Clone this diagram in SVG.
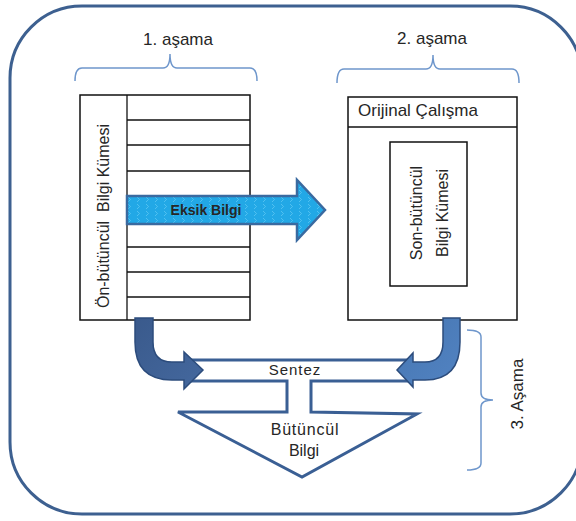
<svg xmlns="http://www.w3.org/2000/svg" width="576" height="521" viewBox="0 0 576 521">
  <style>
    .frame { fill: #ffffff; stroke: #3d6090; stroke-width: 3; }
    .box { fill: #ffffff; stroke: #111111; stroke-width: 1.5; }
    .rule { stroke: #111111; stroke-width: 1.3; }
    .brace { fill: none; stroke: #6f97cc; stroke-width: 1.5; }
    .txt { font-family: "Liberation Sans", Arial, sans-serif; fill: #262626; }
    .blk { fill: #ffffff; stroke: #3a5f94; stroke-width: 3; stroke-linejoin: miter; }
    .bend { stroke: #2c4c7c; stroke-width: 1.5; stroke-linejoin: miter; }
  </style>
  <defs>
    <pattern id="chev" width="9" height="7" patternUnits="userSpaceOnUse">
      <rect width="9" height="7" fill="#22a8e6"/>
      <polyline points="2,1 4.5,3.5 2,6" fill="none" stroke="#5cc6f2" stroke-width="0.8"/>
    </pattern>
    <linearGradient id="gLeft" x1="0" y1="0" x2="1" y2="1">
      <stop offset="0" stop-color="#3a5a8c"/>
      <stop offset="1" stop-color="#44689e"/>
    </linearGradient>
    <linearGradient id="gRight" x1="0" y1="0" x2="1" y2="1">
      <stop offset="0" stop-color="#4676b2"/>
      <stop offset="1" stop-color="#5283c2"/>
    </linearGradient>
  </defs>

  <!-- outer rounded frame -->
  <rect class="frame" x="10" y="6" width="572" height="508" rx="72" ry="72"/>

  <!-- stage braces and labels -->
  <g id="stage1">
    <path class="brace" d="M75,81 Q75,68 82,68 L163,68 Q170,68 170,54 Q170,68 177,68 L250,68 Q257,68 257,81"/>
    <text class="txt" x="178" y="45" font-size="17" text-anchor="middle">1. aşama</text>
  </g>
  <g id="stage2">
    <path class="brace" d="M337,83 Q337,69 344,69 L426,69 Q433,69 433,55 Q433,69 440,69 L512,69 Q519,69 519,83"/>
    <text class="txt" x="432" y="44" font-size="17" text-anchor="middle">2. aşama</text>
  </g>
  <g id="stage3">
    <path class="brace" d="M467,330 Q481,330 481,337 L481,393 Q481,400 493,400 Q481,400 481,407 L481,463 Q481,470 467,470"/>
    <text class="txt" x="523" y="394" font-size="17" text-anchor="middle" transform="rotate(-90 523 394)">3. Aşama</text>
  </g>

  <!-- pre-integration data set table -->
  <g id="pre-set">
    <rect class="box" x="80" y="95" width="170" height="225"/>
    <line class="rule" x1="127" y1="95" x2="127" y2="320"/>
    <line class="rule" x1="127" y1="120" x2="250" y2="120"/>
    <line class="rule" x1="127" y1="145" x2="250" y2="145"/>
    <line class="rule" x1="127" y1="171" x2="250" y2="171"/>
    <line class="rule" x1="127" y1="196" x2="250" y2="196"/>
    <line class="rule" x1="127" y1="221" x2="250" y2="221"/>
    <line class="rule" x1="127" y1="247" x2="250" y2="247"/>
    <line class="rule" x1="127" y1="272" x2="250" y2="272"/>
    <line class="rule" x1="127" y1="297" x2="250" y2="297"/>
    <text class="txt" x="109" y="216" font-size="16" text-anchor="middle" style="white-space:pre" transform="rotate(-90 109 216)">Ön-bütüncül  Bilgi Kümesi</text>
  </g>

  <!-- original study box -->
  <g id="original">
    <rect class="box" x="348" y="97" width="169" height="223"/>
    <line class="rule" x1="348" y1="127" x2="517" y2="127"/>
    <text class="txt" x="358" y="116" font-size="17">Orijinal Çalışma</text>
  </g>
  <g id="post-set">
    <rect class="box" x="390" y="142" width="77" height="144"/>
    <text class="txt" x="422" y="213" font-size="16" text-anchor="middle" transform="rotate(-90 422 213)">Son-bütüncül</text>
    <text class="txt" x="448" y="213" font-size="16" text-anchor="middle" transform="rotate(-90 448 213)">Bilgi Kümesi</text>
  </g>

  <!-- synthesis block arrow -->
  <g id="synthesis">
    <path class="blk" d="M192,360 L407,360 L407,381 L311,381 L311,412 L417,414 L302,477 L178,412 L287,412 L287,381 L192,381 Z"/>
    <text class="txt" x="295" y="375" font-size="15" text-anchor="middle" letter-spacing="1">Sentez</text>
    <text class="txt" x="305" y="435" font-size="16" text-anchor="middle" letter-spacing="0.8">Bütüncül</text>
    <text class="txt" x="304" y="456" font-size="16" text-anchor="middle">Bilgi</text>
  </g>

  <!-- connectors -->
  <g id="connectors">
    <g id="missing-info">
      <path d="M127,196 L297,196 L297,180 L325,210 L297,240 L297,224 L127,224 Z" fill="url(#chev)" stroke="#3a6aa0" stroke-width="2.5" stroke-linejoin="miter"/>
      <text class="txt" x="206" y="215" font-size="14" font-weight="bold" text-anchor="middle" fill="#0f1a2a">Eksik Bilgi</text>
    </g>
    <path class="bend" fill="url(#gLeft)" d="M135,318 L153,318 L153,342 Q153,362 172,362 L184,362 L184,352 L203,370 L184,389 L184,380 L172,380 Q135,380 135,342 Z"/>
    <path class="bend" fill="url(#gRight)" d="M443,318 L460,318 L460,342 Q460,380 425,380 L413,380 L413,387 L397,370 L413,353 L413,362 L425,362 Q443,362 443,342 Z"/>
  </g>
</svg>
